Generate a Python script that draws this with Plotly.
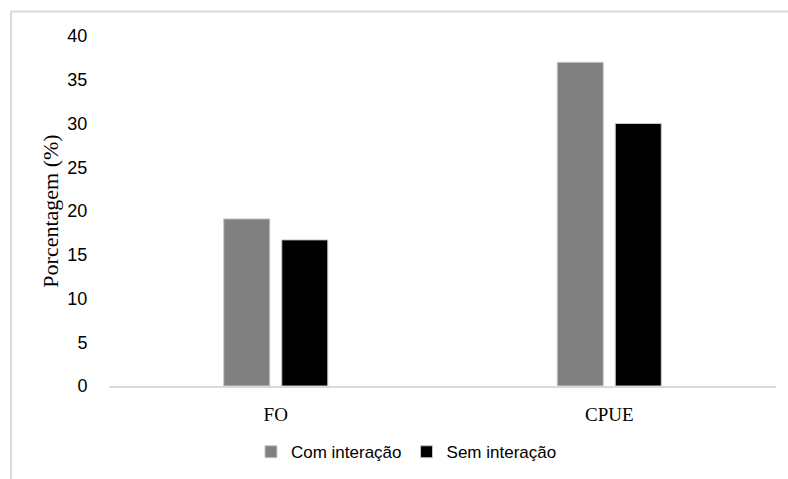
import plotly.graph_objects as go

categories = ["FO", "CPUE"]
com_interacao = [19.1, 37.0]
sem_interacao = [16.7, 30.0]
y_ticks = [0, 5, 10, 15, 20, 25, 30, 35, 40]

BAR_W = 0.138   # bar width in category units
HALF_GAP = 0.018

fig = go.Figure()
fig.add_trace(go.Bar(
    x=categories, y=com_interacao, name="Com interação",
    width=BAR_W, offset=-(BAR_W + HALF_GAP),
    marker=dict(color="#808080", line=dict(color="#c8c8c8", width=1)),
))
fig.add_trace(go.Bar(
    x=categories, y=sem_interacao, name="Sem interação",
    width=BAR_W, offset=HALF_GAP,
    marker=dict(color="#000000", line=dict(color="#c8c8c8", width=1)),
))

# outer frame of the chart area (top and left edges)
fig.add_shape(type="line", xref="paper", yref="paper",
              x0=-0.147, x1=1.1, y0=1.07, y1=1.07,
              line=dict(color="#d9d9d9", width=2))
fig.add_shape(type="line", xref="paper", yref="paper",
              x0=-0.147, x1=-0.147, y0=1.07, y1=-0.3,
              line=dict(color="#d9d9d9", width=2))

fig.update_layout(
    width=788, height=479,
    margin=dict(l=109, r=12, t=36, b=93, autoexpand=False),
    paper_bgcolor="white", plot_bgcolor="white",
    barmode="group",
    showlegend=True,
    legend=dict(orientation="h", x=0.446, xanchor="center",
                yref="container", y=0.056, yanchor="middle",
                font=dict(family="Liberation Sans, Arial", size=17, color="#000000"),
                itemwidth=30, traceorder="normal"),
    xaxis=dict(
        showgrid=False, showline=True, linecolor="#d9d9d9", linewidth=2,
        ticks="outside", ticklen=10, tickcolor="rgba(0,0,0,0)",
        tickfont=dict(family="Liberation Serif, Times New Roman", size=19, color="#000000"),
        zeroline=False,
    ),
    yaxis=dict(
        range=[0, 40], tickvals=y_ticks, showgrid=False, showline=False, zeroline=False,
        ticks="outside", ticklen=17, tickcolor="rgba(0,0,0,0)",
        tickfont=dict(family="Liberation Sans, Arial", size=18, color="#000000"),
        title=dict(text="Porcentagem (%)", standoff=2,
                   font=dict(family="Liberation Serif, Times New Roman", size=22, color="#000000")),
    ),
)

fig.write_html("out.html")
